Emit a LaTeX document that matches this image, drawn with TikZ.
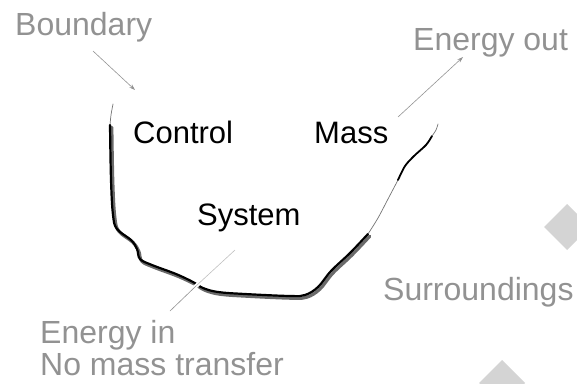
\documentclass[tikz,border=0pt]{standalone}
\usepackage{fontspec}
\setmainfont{Liberation Sans}
\usetikzlibrary{arrows.meta,calc}
\definecolor{labelgray}{HTML}{929292}
\definecolor{diamondgray}{HTML}{D4D4D4}
\definecolor{shadowgray}{HTML}{6A6A6A}
\begin{document}
\begin{tikzpicture}[x=1pt,y=-1pt,
  graylabel/.style={anchor=base west,inner sep=0pt,text=labelgray,font=\fontsize{32}{34}\selectfont},
  mainlabel/.style={anchor=base west,inner sep=0pt,text=black,font=\fontsize{31}{33}\selectfont},
  pointer/.style={draw=labelgray,line width=0.6pt},
  diamondshape/.style={fill=diamondgray,draw=none},
  bshadow/.style={draw=shadowgray,line width=3.2pt,line cap=round,line join=round},
  bline/.style={draw=black,line width=2.2pt,line cap=round,line join=round},
  bthin/.style={draw=black!55,line width=0.7pt,line cap=round}]
\useasboundingbox (0,0) rectangle (577,383);
% diamonds
\fill[diamondshape] (567,204) -- (590,227) -- (567,250) -- (544,227) -- cycle;
\fill[diamondshape] (502,360) -- (525,383) -- (502,406) -- (479,383) -- cycle;
% boundary curve
\draw[bthin] plot[smooth] coordinates {(113,104) (111,115) (110,125)};
\draw[bshadow,shift={(1.8,2.2)}] plot[smooth,tension=0.6] coordinates {(110,125) (111,180) (113,215) (117,229) (131,240) (137,249) (140,259) (152,265) (176,274) (193,282) (203,288) (218,292) (245,294) (290,296) (305,295) (318,287) (331,271) (350,253) (368,234)};
\draw[bline] plot[smooth,tension=0.6] coordinates {(110,125) (111,180) (113,215) (117,229) (131,240) (137,249) (140,259) (152,265) (176,274) (193,282) (203,288) (218,292) (245,294) (290,296) (305,295) (318,287) (331,271) (350,253) (368,234)};
\draw[bthin] plot[smooth] coordinates {(368,234) (378,218) (388,199) (398,180)};
\draw[bline,line width=1.8pt] plot[smooth] coordinates {(398,180) (405,166) (414,156) (426,145) (432,136)};
\draw[bthin] plot[smooth] coordinates {(432,136) (436,130) (438,124)};
% labels
\node[graylabel] (boundary) at (15,35) {Boundary};
\node[mainlabel] (control) at (133,143) {Control};
\node[mainlabel] (mass) at (314,143) {Mass};
\node[mainlabel] (system) at (197,225) {System};
\node[graylabel] (eout) at (413,50) {Energy out};
\node[graylabel] (ein) at (40,343) {Energy in};
\node[graylabel] (nomass) at (40,375) {No mass transfer};
\node[graylabel] (surr) at (383,300) {Surroundings};
% pointers
\coordinate (bstart) at (93,51);
\coordinate (bend) at (135,90);
\draw[pointer,-{Stealth[length=6pt,width=4pt]}] (bstart) -- (bend);
\coordinate (eostart) at (398,117);
\coordinate (eoend) at (463,57);
\draw[pointer,-{Stealth[length=6pt,width=4pt]}] (eostart) -- (eoend);
\coordinate (eistart) at (170,311);
\coordinate (eimid) at (196,286);
\coordinate (eiend) at (235,250);
\draw[white,line width=4pt] ($(eistart)!0.7!(eimid)$) -- ($(eimid)!0.15!(eiend)$);
\draw[pointer] (eistart) -- (eimid);
\draw[draw=black!25,line width=0.6pt] (eimid) -- (eiend);
\end{tikzpicture}
\end{document}
